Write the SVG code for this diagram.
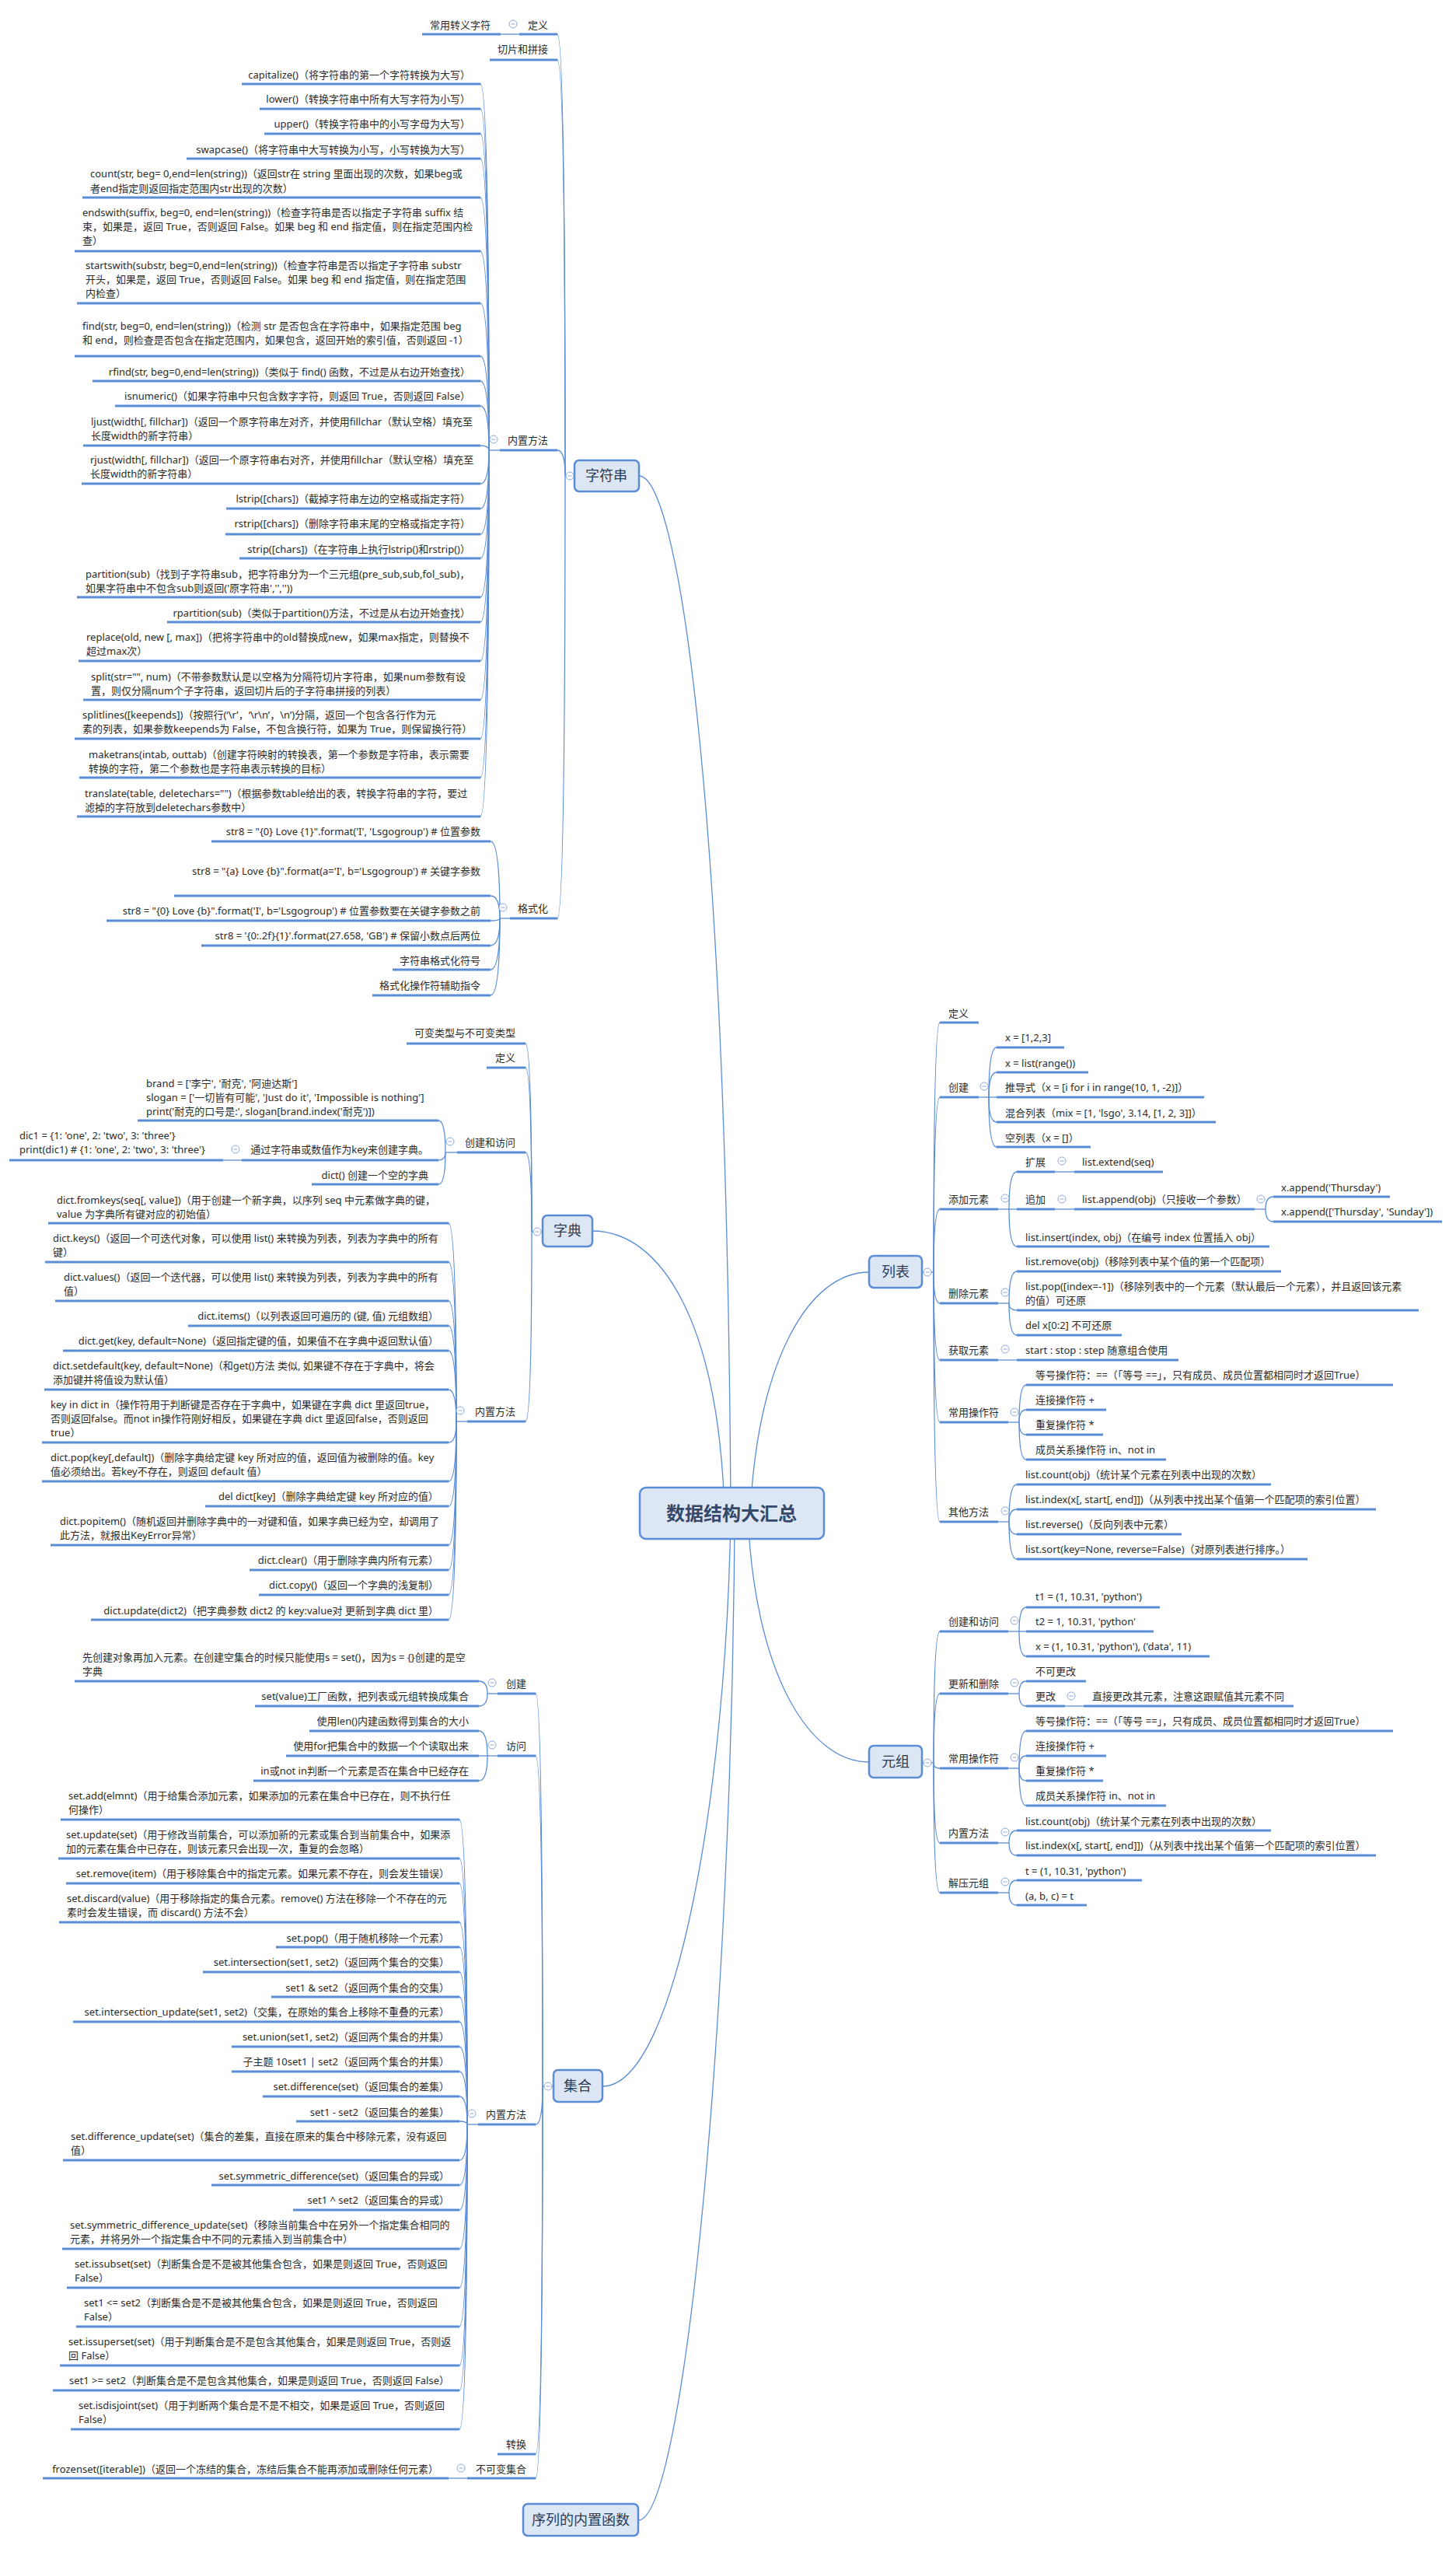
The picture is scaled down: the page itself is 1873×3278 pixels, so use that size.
<svg xmlns="http://www.w3.org/2000/svg" xmlns:xlink="http://www.w3.org/1999/xlink" width="1873" height="3278" viewBox="0 0 1873 3278">
<style>
.t{font-family:"Noto Sans","Noto Sans CJK SC",sans-serif;font-size:13px;fill:#2b2b2b}
.e{text-anchor:end}
.u{stroke:#5b8dd6;stroke-width:3}
.k{fill:none;stroke:#5b8dd6;stroke-width:1.3}
.b{fill:#dde7f4;stroke:#5b8dd6;stroke-width:2.5}
.bt{font-family:"Noto Sans","Noto Sans CJK SC",sans-serif;font-size:18px;fill:#2c3c57;text-anchor:middle}
.ct{font-family:"Noto Sans","Noto Sans CJK SC",sans-serif;font-size:24px;font-weight:bold;fill:#34496a;text-anchor:middle}
</style>
<defs>
<g id="mi"><circle r="5" fill="#fff" stroke="#8eaad6" stroke-width="1"/><line x1="-2.6" y1="0" x2="2.6" y2="0" stroke="#8eaad6" stroke-width="1"/></g>
</defs>
<rect width="1873" height="3278" fill="#fff"/>
<g id="connectors">
<!-- central -->
<path class="k" d="M822 612 C870 612 935 1000 940 1946"/>
<path class="k" d="M762 1583 C850 1583 925 1700 932 1946"/>
<path class="k" d="M775 2683 C870 2683 935 2300 940 1946"/>
<path class="k" d="M821 3241 C880 3241 942 2600 945 1946"/>
<path class="k" d="M1118 1636 C1040 1636 975 1750 965 1946"/>
<path class="k" d="M1118 2266 C1040 2266 970 2150 962 1946"/>
<!-- 字符串 -->
<path class="k" d="M727 612 H739"/>
<path class="k" d="M717 44 Q727 44 727 612"/>
<path class="k" d="M717 77 Q727 77 727 612"/>
<path class="k" d="M717 579 Q727 579 727 612"/>
<path class="k" d="M717 1181 Q727 1181 727 612"/>
<path class="k" d="M644 44 H668"/>
<path class="k" d="M629 579 H643"/>
<path class="k" d="M618 108 Q629 108 629 579"/>
<path class="k" d="M618 140 Q629 140 629 579"/>
<path class="k" d="M618 172 Q629 172 629 579"/>
<path class="k" d="M618 204 Q629 204 629 579"/>
<path class="k" d="M618 254 Q629 254 629 579"/>
<path class="k" d="M618 323 Q629 323 629 579"/>
<path class="k" d="M618 390 Q629 390 629 579"/>
<path class="k" d="M618 458 Q629 458 629 579"/>
<path class="k" d="M618 490 Q629 490 629 579"/>
<path class="k" d="M618 522 Q629 522 629 579"/>
<path class="k" d="M618 573 Q629 573 629 579"/>
<path class="k" d="M618 622 Q629 622 629 579"/>
<path class="k" d="M618 654 Q629 654 629 579"/>
<path class="k" d="M618 687 Q629 687 629 579"/>
<path class="k" d="M618 718 Q629 718 629 579"/>
<path class="k" d="M618 768 Q629 768 629 579"/>
<path class="k" d="M618 800 Q629 800 629 579"/>
<path class="k" d="M618 850 Q629 850 629 579"/>
<path class="k" d="M618 900 Q629 900 629 579"/>
<path class="k" d="M618 950 Q629 950 629 579"/>
<path class="k" d="M618 1000 Q629 1000 629 579"/>
<path class="k" d="M618 1050 Q629 1050 629 579"/>
<path class="k" d="M643 1181 H656"/>
<path class="k" d="M631 1082 Q643 1082 643 1181"/>
<path class="k" d="M631 1152 Q643 1152 643 1181"/>
<path class="k" d="M631 1184 Q643 1184 643 1181"/>
<path class="k" d="M631 1216 Q643 1216 643 1181"/>
<path class="k" d="M631 1247 Q643 1247 643 1181"/>
<path class="k" d="M631 1280 Q643 1280 643 1181"/>
<!-- 字典 -->
<path class="k" d="M684 1584 H698"/>
<path class="k" d="M676 1342 Q684 1342 684 1584"/>
<path class="k" d="M676 1373 Q684 1373 684 1584"/>
<path class="k" d="M676 1482 Q684 1482 684 1584"/>
<path class="k" d="M676 1828 Q684 1828 684 1584"/>
<path class="k" d="M573 1482 H588"/>
<path class="k" d="M564 1441 Q573 1441 573 1482"/>
<path class="k" d="M564 1492 Q573 1492 573 1482"/>
<path class="k" d="M564 1523 Q573 1523 573 1482"/>
<path class="k" d="M287 1492 H311"/>
<path class="k" d="M587 1828 H601"/>
<path class="k" d="M577 1573 Q587 1573 587 1828"/>
<path class="k" d="M577 1623 Q587 1623 587 1828"/>
<path class="k" d="M577 1673 Q587 1673 587 1828"/>
<path class="k" d="M577 1705 Q587 1705 587 1828"/>
<path class="k" d="M577 1737 Q587 1737 587 1828"/>
<path class="k" d="M577 1787 Q587 1787 587 1828"/>
<path class="k" d="M577 1855 Q587 1855 587 1828"/>
<path class="k" d="M577 1905 Q587 1905 587 1828"/>
<path class="k" d="M577 1937 Q587 1937 587 1828"/>
<path class="k" d="M577 1987 Q587 1987 587 1828"/>
<path class="k" d="M577 2019 Q587 2019 587 1828"/>
<path class="k" d="M577 2051 Q587 2051 587 1828"/>
<path class="k" d="M577 2083 Q587 2083 587 1828"/>
<!-- 集合 -->
<path class="k" d="M698 2683 H712"/>
<path class="k" d="M689 2178 Q698 2178 698 2683"/>
<path class="k" d="M689 2258 Q698 2258 698 2683"/>
<path class="k" d="M689 2732 Q698 2732 698 2683"/>
<path class="k" d="M689 3156 Q698 3156 698 2683"/>
<path class="k" d="M689 3187 Q698 3187 698 2683"/>
<path class="k" d="M627 2178 H640"/>
<path class="k" d="M616 2162 Q627 2162 627 2178"/>
<path class="k" d="M616 2194 Q627 2194 627 2178"/>
<path class="k" d="M627 2258 H640"/>
<path class="k" d="M616 2226 Q627 2226 627 2258"/>
<path class="k" d="M616 2258 H627"/>
<path class="k" d="M616 2290 Q627 2290 627 2258"/>
<path class="k" d="M601 2732 H615"/>
<path class="k" d="M591 2340 Q601 2340 601 2732"/>
<path class="k" d="M591 2390 Q601 2390 601 2732"/>
<path class="k" d="M591 2422 Q601 2422 601 2732"/>
<path class="k" d="M591 2472 Q601 2472 601 2732"/>
<path class="k" d="M591 2504 Q601 2504 601 2732"/>
<path class="k" d="M591 2536 Q601 2536 601 2732"/>
<path class="k" d="M591 2568 Q601 2568 601 2732"/>
<path class="k" d="M591 2600 Q601 2600 601 2732"/>
<path class="k" d="M591 2632 Q601 2632 601 2732"/>
<path class="k" d="M591 2664 Q601 2664 601 2732"/>
<path class="k" d="M591 2696 Q601 2696 601 2732"/>
<path class="k" d="M591 2728 Q601 2728 601 2732"/>
<path class="k" d="M591 2778 Q601 2778 601 2732"/>
<path class="k" d="M591 2810 Q601 2810 601 2732"/>
<path class="k" d="M591 2842 Q601 2842 601 2732"/>
<path class="k" d="M591 2892 Q601 2892 601 2732"/>
<path class="k" d="M591 2942 Q601 2942 601 2732"/>
<path class="k" d="M591 2992 Q601 2992 601 2732"/>
<path class="k" d="M591 3042 Q601 3042 601 2732"/>
<path class="k" d="M591 3074 Q601 3074 601 2732"/>
<path class="k" d="M591 3124 Q601 3124 601 2732"/>
<path class="k" d="M577 3187 H601"/>
<!-- 列表 -->
<path class="k" d="M1186 1636 H1201"/>
<path class="k" d="M1209 1315 Q1201 1315 1201 1636"/>
<path class="k" d="M1209 1411 Q1201 1411 1201 1636"/>
<path class="k" d="M1209 1555 Q1201 1555 1201 1636"/>
<path class="k" d="M1209 1676 Q1201 1676 1201 1636"/>
<path class="k" d="M1209 1749 Q1201 1749 1201 1636"/>
<path class="k" d="M1209 1829 Q1201 1829 1201 1636"/>
<path class="k" d="M1209 1957 Q1201 1957 1201 1636"/>
<path class="k" d="M1259 1411 H1272"/>
<path class="k" d="M1282 1347 Q1272 1347 1272 1411"/>
<path class="k" d="M1282 1379 Q1272 1379 1272 1411"/>
<path class="k" d="M1272 1411 H1282"/>
<path class="k" d="M1282 1443 Q1272 1443 1272 1411"/>
<path class="k" d="M1282 1475 Q1272 1475 1272 1411"/>
<path class="k" d="M1284 1555 H1298"/>
<path class="k" d="M1308 1507 Q1298 1507 1298 1555"/>
<path class="k" d="M1298 1555 H1308"/>
<path class="k" d="M1308 1603 Q1298 1603 1298 1555"/>
<path class="k" d="M1357 1507 H1382"/>
<path class="k" d="M1357 1555 H1382"/>
<path class="k" d="M1614 1555 H1628"/>
<path class="k" d="M1638 1539 Q1628 1539 1628 1555"/>
<path class="k" d="M1638 1571 Q1628 1571 1628 1555"/>
<path class="k" d="M1284 1676 H1298"/>
<path class="k" d="M1308 1635 Q1298 1635 1298 1676"/>
<path class="k" d="M1308 1685 Q1298 1685 1298 1676"/>
<path class="k" d="M1308 1717 Q1298 1717 1298 1676"/>
<path class="k" d="M1284 1749 H1308"/>
<path class="k" d="M1297 1829 H1311"/>
<path class="k" d="M1320 1781 Q1311 1781 1311 1829"/>
<path class="k" d="M1320 1813 Q1311 1813 1311 1829"/>
<path class="k" d="M1320 1845 Q1311 1845 1311 1829"/>
<path class="k" d="M1320 1877 Q1311 1877 1311 1829"/>
<path class="k" d="M1284 1957 H1298"/>
<path class="k" d="M1308 1909 Q1298 1909 1298 1957"/>
<path class="k" d="M1308 1941 Q1298 1941 1298 1957"/>
<path class="k" d="M1308 1973 Q1298 1973 1298 1957"/>
<path class="k" d="M1308 2005 Q1298 2005 1298 1957"/>
<!-- 元组 -->
<path class="k" d="M1186 2267 H1201"/>
<path class="k" d="M1209 2098 Q1201 2098 1201 2267"/>
<path class="k" d="M1209 2178 Q1201 2178 1201 2267"/>
<path class="k" d="M1209 2274 Q1201 2274 1201 2267"/>
<path class="k" d="M1209 2370 Q1201 2370 1201 2267"/>
<path class="k" d="M1209 2434 Q1201 2434 1201 2267"/>
<path class="k" d="M1297 2098 H1311"/>
<path class="k" d="M1320 2067 Q1311 2067 1311 2098"/>
<path class="k" d="M1311 2098 H1320"/>
<path class="k" d="M1320 2130 Q1311 2130 1311 2098"/>
<path class="k" d="M1297 2178 H1311"/>
<path class="k" d="M1320 2162 Q1311 2162 1311 2178"/>
<path class="k" d="M1320 2194 Q1311 2194 1311 2178"/>
<path class="k" d="M1370 2194 H1394"/>
<path class="k" d="M1297 2274 H1311"/>
<path class="k" d="M1320 2226 Q1311 2226 1311 2274"/>
<path class="k" d="M1320 2258 Q1311 2258 1311 2274"/>
<path class="k" d="M1320 2290 Q1311 2290 1311 2274"/>
<path class="k" d="M1320 2322 Q1311 2322 1311 2274"/>
<path class="k" d="M1284 2370 H1298"/>
<path class="k" d="M1308 2354 Q1298 2354 1298 2370"/>
<path class="k" d="M1308 2386 Q1298 2386 1298 2370"/>
<path class="k" d="M1284 2434 H1298"/>
<path class="k" d="M1308 2418 Q1298 2418 1298 2434"/>
<path class="k" d="M1308 2450 Q1298 2450 1298 2434"/>
</g>

<g id="central"><rect class="b" x="823" y="1913" width="237" height="66" rx="8" stroke-width="3"/><text class="ct" x="941" y="1955">数据结构大汇总</text></g>

<g id="n-str"><rect class="b" x="739" y="592" width="83" height="40" rx="6"/><text class="bt" x="780" y="618">字符串</text><use xlink:href="#mi" x="733" y="612"/></g>
<g id="n-dict"><rect class="b" x="698" y="1563" width="64" height="40" rx="6"/><text class="bt" x="730" y="1589">字典</text><use xlink:href="#mi" x="691" y="1584"/></g>
<g id="n-set"><rect class="b" x="712" y="2662" width="63" height="41" rx="6"/><text class="bt" x="743" y="2689">集合</text><use xlink:href="#mi" x="705" y="2683"/></g>
<g id="n-seq"><rect class="b" x="673" y="3220" width="148" height="41" rx="6"/><text class="bt" x="747" y="3247">序列的内置函数</text></g>
<g id="n-list"><rect class="b" x="1118" y="1615" width="68" height="41" rx="6"/><text class="bt" x="1152" y="1642">列表</text><use xlink:href="#mi" x="1193" y="1636"/></g>
<g id="n-tuple"><rect class="b" x="1118" y="2245" width="68" height="41" rx="6"/><text class="bt" x="1152" y="2272">元组</text><use xlink:href="#mi" x="1193" y="2267"/></g>

<!-- 字符串 children -->
<g id="s-def"><line class="u" x1="668" y1="44" x2="717" y2="44"/><text class="t e" x="705" y="37">定义</text><use xlink:href="#mi" x="660" y="31"/></g>
<g id="s-esc"><line class="u" x1="543" y1="44" x2="644" y2="44"/><text class="t e" x="631" y="37">常用转义字符</text></g>
<g id="s-slice"><line class="u" x1="630" y1="77" x2="717" y2="77"/><text class="t e" x="705" y="68">切片和拼接</text></g>
<g id="s-m"><line class="u" x1="643" y1="579" x2="717" y2="579"/><text class="t e" x="705" y="571">内置方法</text><use xlink:href="#mi" x="635" y="565"/></g>
<g id="s-m1"><line class="u" x1="311" y1="108" x2="618" y2="108"/><text class="t e" x="605" y="101">capitalize()（将字符串的第一个字符转换为大写）</text></g>
<g id="s-m2"><line class="u" x1="334" y1="140" x2="618" y2="140"/><text class="t e" x="605" y="132">lower()（转换字符串中所有大写字符为小写）</text></g>
<g id="s-m3"><line class="u" x1="340" y1="172" x2="618" y2="172"/><text class="t e" x="605" y="164">upper()（转换字符串中的小写字母为大写）</text></g>
<g id="s-m4"><line class="u" x1="240" y1="204" x2="618" y2="204"/><text class="t e" x="605" y="197">swapcase()（将字符串中大写转换为小写，小写转换为大写）</text></g>
<g id="s-m5"><line class="u" x1="106" y1="254" x2="618" y2="254"/><text class="t"><tspan x="116" y="228">count(str, beg= 0,end=len(string))（返回str在 string 里面出现的次数，如果beg或</tspan><tspan x="116" y="247">者end指定则返回指定范围内str出现的次数）</tspan></text></g>
<g id="s-m6"><line class="u" x1="96" y1="323" x2="618" y2="323"/><text class="t"><tspan x="106" y="278">endswith(suffix, beg=0, end=len(string))（检查字符串是否以指定子字符串 suffix 结</tspan><tspan x="106" y="296">束，如果是，返回 True，否则返回 False。如果 beg 和 end 指定值，则在指定范围内检</tspan><tspan x="106" y="314">查）</tspan></text></g>
<g id="s-m7"><line class="u" x1="99" y1="390" x2="618" y2="390"/><text class="t"><tspan x="110" y="346">startswith(substr, beg=0,end=len(string))（检查字符串是否以指定子字符串 substr</tspan><tspan x="110" y="364">开头，如果是，返回 True，否则返回 False。如果 beg 和 end 指定值，则在指定范围</tspan><tspan x="110" y="382">内检查）</tspan></text></g>
<g id="s-m8"><line class="u" x1="96" y1="458" x2="618" y2="458"/><text class="t"><tspan x="106" y="424">find(str, beg=0, end=len(string))（检测 str 是否包含在字符串中，如果指定范围 beg</tspan><tspan x="106" y="442">和 end，则检查是否包含在指定范围内，如果包含，返回开始的索引值，否则返回 -1）</tspan></text></g>
<g id="s-m9"><line class="u" x1="119" y1="490" x2="618" y2="490"/><text class="t e" x="605" y="483">rfind(str, beg=0,end=len(string))（类似于 find() 函数，不过是从右边开始查找）</text></g>
<g id="s-m10"><line class="u" x1="148" y1="522" x2="618" y2="522"/><text class="t e" x="605" y="514">isnumeric()（如果字符串中只包含数字字符，则返回 True，否则返回 False）</text></g>
<g id="s-m11"><line class="u" x1="107" y1="573" x2="618" y2="573"/><text class="t"><tspan x="117" y="547">ljust(width[, fillchar])（返回一个原字符串左对齐，并使用fillchar（默认空格）填充至</tspan><tspan x="117" y="565">长度width的新字符串）</tspan></text></g>
<g id="s-m12"><line class="u" x1="105" y1="622" x2="618" y2="622"/><text class="t"><tspan x="116" y="596">rjust(width[, fillchar])（返回一个原字符串右对齐，并使用fillchar（默认空格）填充至</tspan><tspan x="116" y="614">长度width的新字符串）</tspan></text></g>
<g id="s-m13"><line class="u" x1="291" y1="654" x2="618" y2="654"/><text class="t e" x="605" y="646">lstrip([chars])（截掉字符串左边的空格或指定字符）</text></g>
<g id="s-m14"><line class="u" x1="290" y1="687" x2="618" y2="687"/><text class="t e" x="605" y="678">rstrip([chars])（删除字符串末尾的空格或指定字符）</text></g>
<g id="s-m15"><line class="u" x1="308" y1="718" x2="618" y2="718"/><text class="t e" x="605" y="711">strip([chars])（在字符串上执行lstrip()和rstrip()）</text></g>
<g id="s-m16"><line class="u" x1="99" y1="768" x2="618" y2="768"/><text class="t"><tspan x="110" y="743">partition(sub)（找到子字符串sub，把字符串分为一个三元组(pre_sub,sub,fol_sub)，</tspan><tspan x="110" y="761">如果字符串中不包含sub则返回('原字符串','',''))</tspan></text></g>
<g id="s-m17"><line class="u" x1="215" y1="800" x2="618" y2="800"/><text class="t e" x="605" y="793">rpartition(sub)（类似于partition()方法，不过是从右边开始查找）</text></g>
<g id="s-m18"><line class="u" x1="101" y1="850" x2="618" y2="850"/><text class="t"><tspan x="111" y="824">replace(old, new [, max])（把将字符串中的old替换成new，如果max指定，则替换不</tspan><tspan x="111" y="842">超过max次）</tspan></text></g>
<g id="s-m19"><line class="u" x1="107" y1="900" x2="618" y2="900"/><text class="t"><tspan x="117" y="875">split(str="", num)（不带参数默认是以空格为分隔符切片字符串，如果num参数有设</tspan><tspan x="117" y="893">置，则仅分隔num个子字符串，返回切片后的子字符串拼接的列表）</tspan></text></g>
<g id="s-m20"><line class="u" x1="96" y1="950" x2="618" y2="950"/><text class="t"><tspan x="106" y="924">splitlines([keepends])（按照行(‘\r’，‘\r\n’，\n’)分隔，返回一个包含各行作为元</tspan><tspan x="106" y="942">素的列表，如果参数keepends为 False，不包含换行符，如果为 True，则保留换行符）</tspan></text></g>
<g id="s-m21"><line class="u" x1="102" y1="1000" x2="618" y2="1000"/><text class="t"><tspan x="114" y="975">maketrans(intab, outtab)（创建字符映射的转换表，第一个参数是字符串，表示需要</tspan><tspan x="114" y="993">转换的字符，第二个参数也是字符串表示转换的目标）</tspan></text></g>
<g id="s-m22"><line class="u" x1="99" y1="1050" x2="618" y2="1050"/><text class="t"><tspan x="109" y="1025">translate(table, deletechars="")（根据参数table给出的表，转换字符串的字符，要过</tspan><tspan x="109" y="1043">滤掉的字符放到deletechars参数中）</tspan></text></g>
<g id="s-f"><line class="u" x1="656" y1="1181" x2="717" y2="1181"/><text class="t e" x="705" y="1173">格式化</text><use xlink:href="#mi" x="647" y="1167"/></g>
<g id="s-f1"><line class="u" x1="272" y1="1082" x2="631" y2="1082"/><text class="t e" x="618" y="1074">str8 = "{0} Love {1}".format('I', 'Lsgogroup') # 位置参数</text></g>
<g id="s-f2"><line class="u" x1="224" y1="1152" x2="631" y2="1152"/><text class="t e" x="618" y="1125">str8 = "{a} Love {b}".format(a='I', b='Lsgogroup') # 关键字参数</text></g>
<g id="s-f3"><line class="u" x1="137" y1="1184" x2="631" y2="1184"/><text class="t e" x="618" y="1176">str8 = "{0} Love {b}".format('I', b='Lsgogroup') # 位置参数要在关键字参数之前</text></g>
<g id="s-f4"><line class="u" x1="259" y1="1216" x2="631" y2="1216"/><text class="t e" x="618" y="1208">str8 = '{0:.2f}{1}'.format(27.658, 'GB') # 保留小数点后两位</text></g>
<g id="s-f5"><line class="u" x1="505" y1="1247" x2="631" y2="1247"/><text class="t e" x="618" y="1240">字符串格式化符号</text></g>
<g id="s-f6"><line class="u" x1="479" y1="1280" x2="631" y2="1280"/><text class="t e" x="618" y="1272">格式化操作符辅助指令</text></g>

<!-- 字典 children -->
<g id="d-type"><line class="u" x1="523" y1="1342" x2="676" y2="1342"/><text class="t e" x="663" y="1333">可变类型与不可变类型</text></g>
<g id="d-def"><line class="u" x1="626" y1="1373" x2="676" y2="1373"/><text class="t e" x="663" y="1365">定义</text></g>
<g id="d-c"><line class="u" x1="588" y1="1482" x2="676" y2="1482"/><text class="t e" x="663" y="1474">创建和访问</text><use xlink:href="#mi" x="579" y="1468"/></g>
<g id="d-c1"><line class="u" x1="177" y1="1441" x2="564" y2="1441"/><text class="t"><tspan x="188" y="1398">brand = ['李宁', '耐克', '阿迪达斯']</tspan><tspan x="188" y="1416">slogan = ['一切皆有可能', 'Just do it', 'Impossible is nothing']</tspan><tspan x="188" y="1434">print('耐克的口号是:', slogan[brand.index('耐克')])</tspan></text></g>
<g id="d-c2"><line class="u" x1="311" y1="1492" x2="564" y2="1492"/><text class="t e" x="551" y="1483">通过字符串或数值作为key来创建字典。</text><use xlink:href="#mi" x="303" y="1478"/></g>
<g id="d-c2a"><line class="u" x1="12" y1="1492" x2="287" y2="1492"/><text class="t"><tspan x="25" y="1465">dic1 = {1: 'one', 2: 'two', 3: 'three'}</tspan><tspan x="25" y="1483">print(dic1)  # {1: 'one', 2: 'two', 3: 'three'}</tspan></text></g>
<g id="d-c3"><line class="u" x1="401" y1="1523" x2="564" y2="1523"/><text class="t e" x="551" y="1516">dict() 创建一个空的字典</text></g>
<g id="d-m"><line class="u" x1="601" y1="1828" x2="676" y2="1828"/><text class="t e" x="663" y="1820">内置方法</text><use xlink:href="#mi" x="592" y="1814"/></g>
<g id="d-m1"><line class="u" x1="62" y1="1573" x2="577" y2="1573"/><text class="t"><tspan x="73" y="1548">dict.fromkeys(seq[, value])（用于创建一个新字典，以序列 seq 中元素做字典的键，</tspan><tspan x="73" y="1566">value 为字典所有键对应的初始值）</tspan></text></g>
<g id="d-m2"><line class="u" x1="58" y1="1623" x2="577" y2="1623"/><text class="t"><tspan x="68" y="1597">dict.keys()（返回一个可迭代对象，可以使用 list() 来转换为列表，列表为字典中的所有</tspan><tspan x="68" y="1615">键）</tspan></text></g>
<g id="d-m3"><line class="u" x1="71" y1="1673" x2="577" y2="1673"/><text class="t"><tspan x="82" y="1647">dict.values()（返回一个迭代器，可以使用 list() 来转换为列表，列表为字典中的所有</tspan><tspan x="82" y="1665">值）</tspan></text></g>
<g id="d-m4"><line class="u" x1="242" y1="1705" x2="577" y2="1705"/><text class="t e" x="564" y="1697">dict.items()（以列表返回可遍历的 (键, 值) 元组数组）</text></g>
<g id="d-m5"><line class="u" x1="81" y1="1737" x2="577" y2="1737"/><text class="t e" x="564" y="1729">dict.get(key, default=None)（返回指定键的值，如果值不在字典中返回默认值）</text></g>
<g id="d-m6"><line class="u" x1="57" y1="1787" x2="577" y2="1787"/><text class="t"><tspan x="68" y="1761">dict.setdefault(key, default=None)（和get()方法 类似, 如果键不存在于字典中，将会</tspan><tspan x="68" y="1779">添加键并将值设为默认值）</tspan></text></g>
<g id="d-m7"><line class="u" x1="54" y1="1855" x2="577" y2="1855"/><text class="t"><tspan x="65" y="1811">key in dict in（操作符用于判断键是否存在于字典中，如果键在字典 dict 里返回true，</tspan><tspan x="65" y="1829">否则返回false。而not in操作符刚好相反，如果键在字典 dict 里返回false，否则返回</tspan><tspan x="65" y="1847">true）</tspan></text></g>
<g id="d-m8"><line class="u" x1="54" y1="1905" x2="577" y2="1905"/><text class="t"><tspan x="65" y="1879">dict.pop(key[,default])（删除字典给定键 key 所对应的值，返回值为被删除的值。key</tspan><tspan x="65" y="1897">值必须给出。若key不存在，则返回 default 值）</tspan></text></g>
<g id="d-m9"><line class="u" x1="264" y1="1937" x2="577" y2="1937"/><text class="t e" x="564" y="1929">del dict[key]（删除字典给定键 key 所对应的值）</text></g>
<g id="d-m10"><line class="u" x1="65" y1="1987" x2="577" y2="1987"/><text class="t"><tspan x="77" y="1961">dict.popitem()（随机返回并删除字典中的一对键和值，如果字典已经为空，却调用了</tspan><tspan x="77" y="1979">此方法，就报出KeyError异常）</tspan></text></g>
<g id="d-m11"><line class="u" x1="321" y1="2019" x2="577" y2="2019"/><text class="t e" x="564" y="2011">dict.clear()（用于删除字典内所有元素）</text></g>
<g id="d-m12"><line class="u" x1="333" y1="2051" x2="577" y2="2051"/><text class="t e" x="564" y="2043">dict.copy()（返回一个字典的浅复制）</text></g>
<g id="d-m13"><line class="u" x1="117" y1="2083" x2="577" y2="2083"/><text class="t e" x="564" y="2076">dict.update(dict2)（把字典参数 dict2 的 key:value对 更新到字典 dict 里）</text></g>

<!-- 集合 children -->
<g id="t-c"><line class="u" x1="640" y1="2178" x2="689" y2="2178"/><text class="t e" x="677" y="2170">创建</text><use xlink:href="#mi" x="633" y="2164"/></g>
<g id="t-c1"><line class="u" x1="96" y1="2162" x2="616" y2="2162"/><text class="t"><tspan x="106" y="2136">先创建对象再加入元素。在创建空集合的时候只能使用s = set()，因为s = {}创建的是空</tspan><tspan x="106" y="2154">字典</tspan></text></g>
<g id="t-c2"><line class="u" x1="328" y1="2194" x2="616" y2="2194"/><text class="t e" x="603" y="2186">set(value)工厂函数，把列表或元组转换成集合</text></g>
<g id="t-a"><line class="u" x1="640" y1="2258" x2="689" y2="2258"/><text class="t e" x="677" y="2250">访问</text><use xlink:href="#mi" x="633" y="2244"/></g>
<g id="t-a1"><line class="u" x1="398" y1="2226" x2="616" y2="2226"/><text class="t e" x="603" y="2218">使用len()内建函数得到集合的大小</text></g>
<g id="t-a2"><line class="u" x1="368" y1="2258" x2="616" y2="2258"/><text class="t e" x="603" y="2250">使用for把集合中的数据一个个读取出来</text></g>
<g id="t-a3"><line class="u" x1="326" y1="2290" x2="616" y2="2290"/><text class="t e" x="603" y="2282">in或not in判断一个元素是否在集合中已经存在</text></g>
<g id="t-m"><line class="u" x1="615" y1="2732" x2="689" y2="2732"/><text class="t e" x="677" y="2724">内置方法</text><use xlink:href="#mi" x="607" y="2718"/></g>
<g id="t-m1"><line class="u" x1="78" y1="2340" x2="591" y2="2340"/><text class="t"><tspan x="88" y="2314">set.add(elmnt)（用于给集合添加元素，如果添加的元素在集合中已存在，则不执行任</tspan><tspan x="88" y="2332">何操作）</tspan></text></g>
<g id="t-m2"><line class="u" x1="75" y1="2390" x2="591" y2="2390"/><text class="t"><tspan x="85" y="2364">set.update(set)（用于修改当前集合，可以添加新的元素或集合到当前集合中，如果添</tspan><tspan x="85" y="2382">加的元素在集合中已存在，则该元素只会出现一次，重复的会忽略）</tspan></text></g>
<g id="t-m3"><line class="u" x1="85" y1="2422" x2="591" y2="2422"/><text class="t e" x="578" y="2414">set.remove(item)（用于移除集合中的指定元素。如果元素不存在，则会发生错误）</text></g>
<g id="t-m4"><line class="u" x1="76" y1="2472" x2="591" y2="2472"/><text class="t"><tspan x="86" y="2446">set.discard(value)（用于移除指定的集合元素。remove() 方法在移除一个不存在的元</tspan><tspan x="86" y="2464">素时会发生错误，而 discard() 方法不会）</tspan></text></g>
<g id="t-m5"><line class="u" x1="355" y1="2504" x2="591" y2="2504"/><text class="t e" x="578" y="2497">set.pop()（用于随机移除一个元素）</text></g>
<g id="t-m6"><line class="u" x1="261" y1="2536" x2="591" y2="2536"/><text class="t e" x="578" y="2528">set.intersection(set1, set2)（返回两个集合的交集）</text></g>
<g id="t-m7"><line class="u" x1="349" y1="2568" x2="591" y2="2568"/><text class="t e" x="578" y="2561">set1 &amp; set2（返回两个集合的交集）</text></g>
<g id="t-m8"><line class="u" x1="94" y1="2600" x2="591" y2="2600"/><text class="t e" x="578" y="2592">set.intersection_update(set1, set2)（交集，在原始的集合上移除不重叠的元素）</text></g>
<g id="t-m9"><line class="u" x1="298" y1="2632" x2="591" y2="2632"/><text class="t e" x="578" y="2624">set.union(set1, set2)（返回两个集合的并集）</text></g>
<g id="t-m10"><line class="u" x1="298" y1="2664" x2="591" y2="2664"/><text class="t e" x="578" y="2656">子主题 10set1 | set2（返回两个集合的并集）</text></g>
<g id="t-m11"><line class="u" x1="338" y1="2696" x2="591" y2="2696"/><text class="t e" x="578" y="2688">set.difference(set)（返回集合的差集）</text></g>
<g id="t-m12"><line class="u" x1="381" y1="2728" x2="591" y2="2728"/><text class="t e" x="578" y="2721">set1 - set2（返回集合的差集）</text></g>
<g id="t-m13"><line class="u" x1="81" y1="2778" x2="591" y2="2778"/><text class="t"><tspan x="91" y="2752">set.difference_update(set)（集合的差集，直接在原来的集合中移除元素，没有返回</tspan><tspan x="91" y="2770">值）</tspan></text></g>
<g id="t-m14"><line class="u" x1="272" y1="2810" x2="591" y2="2810"/><text class="t e" x="578" y="2803">set.symmetric_difference(set)（返回集合的异或）</text></g>
<g id="t-m15"><line class="u" x1="377" y1="2842" x2="591" y2="2842"/><text class="t e" x="578" y="2834">set1 ^ set2（返回集合的异或）</text></g>
<g id="t-m16"><line class="u" x1="80" y1="2892" x2="591" y2="2892"/><text class="t"><tspan x="90" y="2866">set.symmetric_difference_update(set)（移除当前集合中在另外一个指定集合相同的</tspan><tspan x="90" y="2884">元素，并将另外一个指定集合中不同的元素插入到当前集合中）</tspan></text></g>
<g id="t-m17"><line class="u" x1="86" y1="2942" x2="591" y2="2942"/><text class="t"><tspan x="96" y="2916">set.issubset(set)（判断集合是不是被其他集合包含，如果是则返回 True，否则返回</tspan><tspan x="96" y="2934">False）</tspan></text></g>
<g id="t-m18"><line class="u" x1="98" y1="2992" x2="591" y2="2992"/><text class="t"><tspan x="108" y="2966">set1 &lt;= set2（判断集合是不是被其他集合包含，如果是则返回 True，否则返回</tspan><tspan x="108" y="2984">False）</tspan></text></g>
<g id="t-m19"><line class="u" x1="77" y1="3042" x2="591" y2="3042"/><text class="t"><tspan x="88" y="3016">set.issuperset(set)（用于判断集合是不是包含其他集合，如果是则返回 True，否则返</tspan><tspan x="88" y="3034">回 False）</tspan></text></g>
<g id="t-m20"><line class="u" x1="68" y1="3074" x2="591" y2="3074"/><text class="t e" x="578" y="3066">set1 &gt;= set2（判断集合是不是包含其他集合，如果是则返回 True，否则返回 False）</text></g>
<g id="t-m21"><line class="u" x1="91" y1="3124" x2="591" y2="3124"/><text class="t"><tspan x="101" y="3098">set.isdisjoint(set)（用于判断两个集合是不是不相交，如果是返回 True，否则返回</tspan><tspan x="101" y="3116">False）</tspan></text></g>
<g id="t-conv"><line class="u" x1="640" y1="3156" x2="689" y2="3156"/><text class="t e" x="677" y="3148">转换</text></g>
<g id="t-fz"><line class="u" x1="601" y1="3187" x2="689" y2="3187"/><text class="t e" x="677" y="3180">不可变集合</text><use xlink:href="#mi" x="593" y="3174"/></g>
<g id="t-fz1"><line class="u" x1="55" y1="3187" x2="577" y2="3187"/><text class="t e" x="564" y="3180">frozenset([iterable])（返回一个冻结的集合，冻结后集合不能再添加或删除任何元素）</text></g>

<!-- 列表 children -->
<g id="l-def"><line class="u" x1="1209" y1="1315" x2="1259" y2="1315"/><text class="t" x="1220" y="1308">定义</text></g>
<g id="l-c"><line class="u" x1="1209" y1="1411" x2="1259" y2="1411"/><text class="t" x="1220" y="1403">创建</text><use xlink:href="#mi" x="1266" y="1397"/></g>
<g id="l-c1"><line class="u" x1="1282" y1="1347" x2="1369" y2="1347"/><text class="t" x="1293" y="1339">x = [1,2,3]</text></g>
<g id="l-c2"><line class="u" x1="1282" y1="1379" x2="1400" y2="1379"/><text class="t" x="1293" y="1372">x = list(range())</text></g>
<g id="l-c3"><line class="u" x1="1282" y1="1411" x2="1549" y2="1411"/><text class="t" x="1293" y="1403">推导式（x = [i for i in range(10, 1, -2)]）</text></g>
<g id="l-c4"><line class="u" x1="1282" y1="1443" x2="1564" y2="1443"/><text class="t" x="1293" y="1436">混合列表（mix = [1, 'lsgo', 3.14, [1, 2, 3]]）</text></g>
<g id="l-c5"><line class="u" x1="1282" y1="1475" x2="1403" y2="1475"/><text class="t" x="1293" y="1468">空列表（x = []）</text></g>
<g id="l-a"><line class="u" x1="1209" y1="1555" x2="1284" y2="1555"/><text class="t" x="1220" y="1547">添加元素</text><use xlink:href="#mi" x="1293" y="1541"/></g>
<g id="l-a1"><line class="u" x1="1308" y1="1507" x2="1357" y2="1507"/><text class="t" x="1319" y="1499">扩展</text><use xlink:href="#mi" x="1366" y="1493"/></g>
<g id="l-a1a"><line class="u" x1="1382" y1="1507" x2="1496" y2="1507"/><text class="t" x="1392" y="1499">list.extend(seq)</text></g>
<g id="l-a2"><line class="u" x1="1308" y1="1555" x2="1357" y2="1555"/><text class="t" x="1319" y="1547">追加</text><use xlink:href="#mi" x="1366" y="1542"/></g>
<g id="l-a2a"><line class="u" x1="1382" y1="1555" x2="1614" y2="1555"/><text class="t" x="1392" y="1547">list.append(obj)（只接收一个参数）</text><use xlink:href="#mi" x="1622" y="1542"/></g>
<g id="l-a2a1"><line class="u" x1="1638" y1="1539" x2="1788" y2="1539"/><text class="t" x="1648" y="1532">x.append('Thursday')</text></g>
<g id="l-a2a2"><line class="u" x1="1638" y1="1571" x2="1855" y2="1571"/><text class="t" x="1648" y="1563">x.append(['Thursday', 'Sunday'])</text></g>
<g id="l-a3"><line class="u" x1="1308" y1="1603" x2="1633" y2="1603"/><text class="t" x="1319" y="1596">list.insert(index, obj)（在编号 index 位置插入 obj）</text></g>
<g id="l-d"><line class="u" x1="1209" y1="1676" x2="1284" y2="1676"/><text class="t" x="1220" y="1668">删除元素</text><use xlink:href="#mi" x="1293" y="1662"/></g>
<g id="l-d1"><line class="u" x1="1308" y1="1635" x2="1648" y2="1635"/><text class="t" x="1319" y="1627">list.remove(obj)（移除列表中某个值的第一个匹配项）</text></g>
<g id="l-d2"><line class="u" x1="1308" y1="1685" x2="1825" y2="1685"/><text class="t"><tspan x="1319" y="1659">list.pop([index=-1])（移除列表中的一个元素（默认最后一个元素），并且返回该元素</tspan><tspan x="1319" y="1677">的值）可还原</tspan></text></g>
<g id="l-d3"><line class="u" x1="1308" y1="1717" x2="1443" y2="1717"/><text class="t" x="1319" y="1709">del x[0:2] 不可还原</text></g>
<g id="l-g"><line class="u" x1="1209" y1="1749" x2="1284" y2="1749"/><text class="t" x="1220" y="1741">获取元素</text><use xlink:href="#mi" x="1293" y="1735"/></g>
<g id="l-g1"><line class="u" x1="1308" y1="1749" x2="1516" y2="1749"/><text class="t" x="1319" y="1741">start : stop : step 随意组合使用</text></g>
<g id="l-o"><line class="u" x1="1209" y1="1829" x2="1297" y2="1829"/><text class="t" x="1220" y="1821">常用操作符</text><use xlink:href="#mi" x="1305" y="1816"/></g>
<g id="l-o1"><line class="u" x1="1320" y1="1781" x2="1792" y2="1781"/><text class="t" x="1332" y="1773">等号操作符：==（「等号 ==」，只有成员、成员位置都相同时才返回True）</text></g>
<g id="l-o2"><line class="u" x1="1320" y1="1813" x2="1423" y2="1813"/><text class="t" x="1332" y="1805">连接操作符 +</text></g>
<g id="l-o3"><line class="u" x1="1320" y1="1845" x2="1419" y2="1845"/><text class="t" x="1332" y="1837">重复操作符 *</text></g>
<g id="l-o4"><line class="u" x1="1320" y1="1877" x2="1500" y2="1877"/><text class="t" x="1332" y="1869">成员关系操作符 in、not in</text></g>
<g id="l-x"><line class="u" x1="1209" y1="1957" x2="1284" y2="1957"/><text class="t" x="1220" y="1949">其他方法</text><use xlink:href="#mi" x="1293" y="1943"/></g>
<g id="l-x1"><line class="u" x1="1308" y1="1909" x2="1635" y2="1909"/><text class="t" x="1319" y="1901">list.count(obj)（统计某个元素在列表中出现的次数）</text></g>
<g id="l-x2"><line class="u" x1="1308" y1="1941" x2="1770" y2="1941"/><text class="t" x="1319" y="1933">list.index(x[, start[, end]])（从列表中找出某个值第一个匹配项的索引位置）</text></g>
<g id="l-x3"><line class="u" x1="1308" y1="1973" x2="1520" y2="1973"/><text class="t" x="1319" y="1965">list.reverse()（反向列表中元素）</text></g>
<g id="l-x4"><line class="u" x1="1308" y1="2005" x2="1682" y2="2005"/><text class="t" x="1319" y="1997">list.sort(key=None, reverse=False)（对原列表进行排序。）</text></g>

<!-- 元组 children -->
<g id="u-c"><line class="u" x1="1209" y1="2098" x2="1297" y2="2098"/><text class="t" x="1220" y="2090">创建和访问</text><use xlink:href="#mi" x="1305" y="2084"/></g>
<g id="u-c1"><line class="u" x1="1320" y1="2067" x2="1492" y2="2067"/><text class="t" x="1332" y="2058">t1 = (1, 10.31, 'python')</text></g>
<g id="u-c2"><line class="u" x1="1320" y1="2098" x2="1484" y2="2098"/><text class="t" x="1332" y="2090">t2 = 1, 10.31, 'python'</text></g>
<g id="u-c3"><line class="u" x1="1320" y1="2130" x2="1556" y2="2130"/><text class="t" x="1332" y="2122">x = (1, 10.31, 'python'), ('data', 11)</text></g>
<g id="u-u"><line class="u" x1="1209" y1="2178" x2="1297" y2="2178"/><text class="t" x="1220" y="2170">更新和删除</text><use xlink:href="#mi" x="1305" y="2164"/></g>
<g id="u-u1"><line class="u" x1="1320" y1="2162" x2="1397" y2="2162"/><text class="t" x="1332" y="2154">不可更改</text></g>
<g id="u-u2"><line class="u" x1="1320" y1="2194" x2="1370" y2="2194"/><text class="t" x="1332" y="2186">更改</text><use xlink:href="#mi" x="1378" y="2181"/></g>
<g id="u-u2a"><line class="u" x1="1394" y1="2194" x2="1664" y2="2194"/><text class="t" x="1405" y="2186">直接更改其元素，注意这跟赋值其元素不同</text></g>
<g id="u-o"><line class="u" x1="1209" y1="2274" x2="1297" y2="2274"/><text class="t" x="1220" y="2266">常用操作符</text><use xlink:href="#mi" x="1305" y="2260"/></g>
<g id="u-o1"><line class="u" x1="1320" y1="2226" x2="1792" y2="2226"/><text class="t" x="1332" y="2218">等号操作符：==（「等号 ==」，只有成员、成员位置都相同时才返回True）</text></g>
<g id="u-o2"><line class="u" x1="1320" y1="2258" x2="1423" y2="2258"/><text class="t" x="1332" y="2250">连接操作符 +</text></g>
<g id="u-o3"><line class="u" x1="1320" y1="2290" x2="1419" y2="2290"/><text class="t" x="1332" y="2282">重复操作符 *</text></g>
<g id="u-o4"><line class="u" x1="1320" y1="2322" x2="1500" y2="2322"/><text class="t" x="1332" y="2314">成员关系操作符 in、not in</text></g>
<g id="u-m"><line class="u" x1="1209" y1="2370" x2="1284" y2="2370"/><text class="t" x="1220" y="2362">内置方法</text><use xlink:href="#mi" x="1293" y="2356"/></g>
<g id="u-m1"><line class="u" x1="1308" y1="2354" x2="1635" y2="2354"/><text class="t" x="1319" y="2347">list.count(obj)（统计某个元素在列表中出现的次数）</text></g>
<g id="u-m2"><line class="u" x1="1308" y1="2386" x2="1770" y2="2386"/><text class="t" x="1319" y="2378">list.index(x[, start[, end]])（从列表中找出某个值第一个匹配项的索引位置）</text></g>
<g id="u-z"><line class="u" x1="1209" y1="2434" x2="1284" y2="2434"/><text class="t" x="1220" y="2426">解压元组</text><use xlink:href="#mi" x="1293" y="2420"/></g>
<g id="u-z1"><line class="u" x1="1308" y1="2418" x2="1469" y2="2418"/><text class="t" x="1319" y="2411">t = (1, 10.31, 'python')</text></g>
<g id="u-z2"><line class="u" x1="1308" y1="2450" x2="1398" y2="2450"/><text class="t" x="1319" y="2443">(a, b, c) = t</text></g>
</svg>
